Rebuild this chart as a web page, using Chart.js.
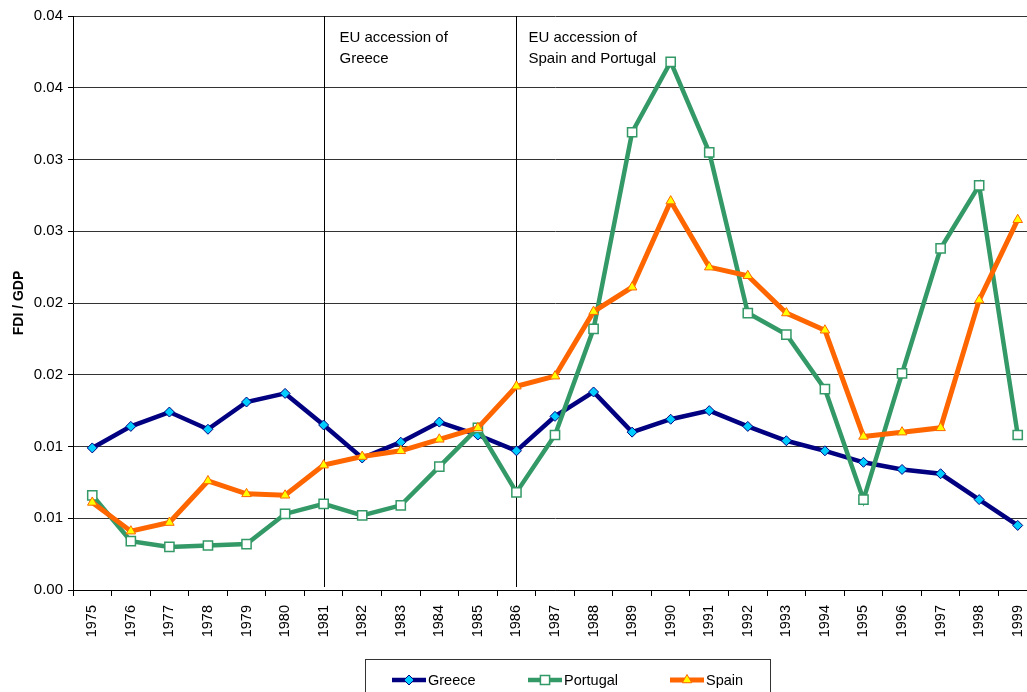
<!DOCTYPE html>
<html>
<head>
<meta charset="utf-8">
<script src="https://cdn.jsdelivr.net/npm/chart.js@4/dist/chart.umd.min.js"></script>
<style>
  html, body { margin: 0; padding: 0; background: #fff; overflow: hidden; }
  #wrap { position: absolute; left: 0; top: 0; width: 1045px; height: 692px; }
</style>
</head>
<body>
<div id="wrap"><canvas id="c" width="1045" height="692"></canvas></div>
<script>
// FDI inflows relative to GDP, 1975-1999
const years = ['1975','1976','1977','1978','1979','1980','1981','1982','1983','1984','1985','1986',
               '1987','1988','1989','1990','1991','1992','1993','1994','1995','1996','1997','1998','1999'];

const greece   = [0.0099, 0.0114, 0.0124, 0.0112, 0.0131, 0.0137, 0.0115, 0.0092, 0.0103, 0.0117, 0.0108, 0.0097,
                  0.0121, 0.0138, 0.0110, 0.0119, 0.0125, 0.0114, 0.0104, 0.0097, 0.0089, 0.0084, 0.0081, 0.0063, 0.0045];
const portugal = [0.0066, 0.0034, 0.0030, 0.0031, 0.0032, 0.0053, 0.0060, 0.0052, 0.0059, 0.0086, 0.0113, 0.0068,
                  0.0108, 0.0182, 0.0319, 0.0368, 0.0305, 0.0193, 0.0178, 0.0140, 0.0063, 0.0151, 0.0238, 0.0282, 0.0108];
const spain    = [0.0061, 0.0041, 0.0047, 0.0076, 0.0067, 0.0066, 0.0087, 0.0093, 0.0097, 0.0105, 0.0113, 0.0142,
                  0.0149, 0.0194, 0.0211, 0.0271, 0.0225, 0.0219, 0.0193, 0.0181, 0.0107, 0.0110, 0.0113, 0.0202, 0.0258];

// y tick labels, printed with two decimals
const yTickLabels = ['0.00', '0.01', '0.01', '0.02', '0.02', '0.03', '0.03', '0.04', '0.04'];

// EU accession markers
const accessionYears = ['1981', '1986'];
const accessionNotes = [['EU accession of', 'Greece'], ['EU accession of', 'Spain and Portugal']];

const FONT = "'Liberation Sans', Arial, sans-serif";

// vertical accession lines with their notes
const accessionPlugin = {
  id: 'accession',
  beforeDatasetsDraw(chart) {
    const { ctx, chartArea, scales } = chart;
    ctx.save();
    accessionYears.forEach((yr, i) => {
      const x = Math.round(scales.x.getPixelForValue(yr)) + 0.5;
      ctx.strokeStyle = '#000';
      ctx.lineWidth = 1;
      ctx.beginPath();
      ctx.moveTo(x, chartArea.top);
      ctx.lineTo(x, chartArea.bottom - 3);
      ctx.stroke();
      ctx.fillStyle = '#000';
      ctx.font = '15px ' + FONT;
      ctx.textBaseline = 'alphabetic';
      ctx.textAlign = 'left';
      const tx = x + (i === 0 ? 15 : 12);
      accessionNotes[i].forEach((line, k) => {
        ctx.fillText(line, tx, chartArea.top + 26 + k * 20.5);
      });
    });
    ctx.restore();
  }
};

// boxed legend at the bottom: line with marker, then label
const legendPlugin = {
  id: 'boxLegend',
  afterDraw(chart) {
    const { ctx } = chart;
    ctx.save();
    ctx.strokeStyle = '#333';
    ctx.lineWidth = 1;
    ctx.strokeRect(365.5, 659.5, 405, 40);
    const starts = [392, 528, 670];
    const cy = 680;
    chart.data.datasets.forEach((ds, i) => {
      const lx = starts[i];
      ctx.strokeStyle = ds.borderColor;
      ctx.lineWidth = ds.borderWidth;
      ctx.beginPath();
      ctx.moveTo(lx, cy);
      ctx.lineTo(lx + 34, cy);
      ctx.stroke();
      ctx.fillStyle = ds.pointBackgroundColor;
      ctx.strokeStyle = ds.pointBorderColor;
      ctx.lineWidth = ds.pointBorderWidth;
      Chart.helpers.drawPoint(ctx, {
        pointStyle: ds.pointStyle, rotation: 0, radius: ds.pointRadius, borderWidth: ds.pointBorderWidth
      }, lx + 17, cy);
      ctx.fillStyle = '#000';
      ctx.font = '14.5px ' + FONT;
      ctx.textAlign = 'left';
      ctx.textBaseline = 'middle';
      ctx.fillText(ds.label, lx + 36, cy + 1);
    });
    ctx.restore();
  }
};

new Chart(document.getElementById('c'), {
  type: 'line',
  data: {
    labels: years,
    datasets: [
      {
        label: 'Greece', data: greece, order: 3,
        borderColor: '#000080', borderWidth: 4.5, tension: 0,
        pointStyle: 'rectRot', pointRadius: 5,
        pointBackgroundColor: '#00CCFF', pointBorderColor: '#000080', pointBorderWidth: 1
      },
      {
        label: 'Portugal', data: portugal, order: 2,
        borderColor: '#339966', borderWidth: 4.5, tension: 0,
        pointStyle: 'rect', pointRadius: 6.5,
        pointBackgroundColor: '#FFFFFF', pointBorderColor: '#339966', pointBorderWidth: 1.5
      },
      {
        label: 'Spain', data: spain, order: 1,
        borderColor: '#FF6600', borderWidth: 5, tension: 0,
        pointStyle: 'triangle', pointRadius: 5.5,
        pointBackgroundColor: '#FFFF00', pointBorderColor: '#FF6600', pointBorderWidth: 1
      }
    ]
  },
  options: {
    responsive: false,
    animation: false,
    devicePixelRatio: 1,
    layout: { padding: { top: 16, right: 4, left: 1, bottom: 0 } },
    plugins: { legend: { display: false }, tooltip: { enabled: false } },
    scales: {
      x: {
        type: 'category',
        offset: true,
        grid: { offset: true, drawOnChartArea: false, tickLength: 6, tickColor: '#000' },
        border: { color: '#000', width: 1 },
        ticks: {
          minRotation: 90, maxRotation: 90, autoSkip: false, padding: 9,
          color: '#000', font: { family: FONT, size: 14.5 }
        },
        afterFit(s) { s.height = 102; }
      },
      y: {
        min: 0, max: 0.04,
        grid: { color: '#333', lineWidth: 1, tickLength: 5, tickColor: '#000' },
        border: { color: '#000', width: 1 },
        ticks: {
          stepSize: 0.005, padding: 5, color: '#000',
          font: { family: FONT, size: 15 },
          callback: (v, i) => yTickLabels[i]
        },
        title: {
          display: true, text: 'FDI / GDP', color: '#000',
          font: { family: FONT, size: 14, weight: 'bold' },
          padding: { top: 10, bottom: 0 }
        },
        afterFit(s) { s.width = 72; }
      }
    }
  },
  plugins: [accessionPlugin, legendPlugin]
});
</script>
</body>
</html>
